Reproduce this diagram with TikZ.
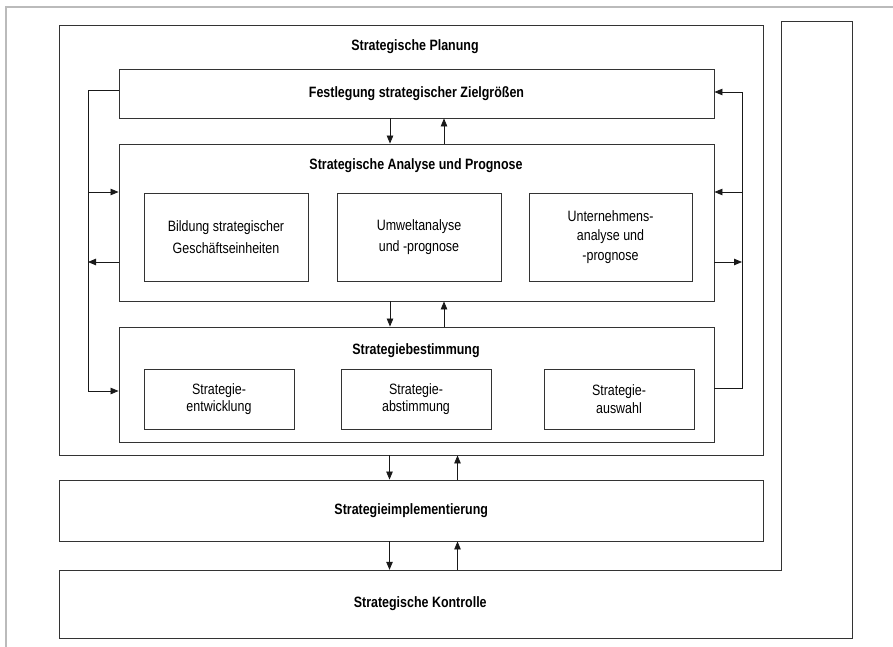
\documentclass[tikz,border=0pt]{standalone}
\usepackage{fontspec}
\setmainfont{Liberation Sans}[FakeStretch=0.83]
\usetikzlibrary{arrows.meta}
\definecolor{linec}{HTML}{333333}
\definecolor{framec}{HTML}{BBBBBB}
\tikzset{
  x=1pt,y=-1pt,
  box/.style={draw=linec,line width=0.9pt,rectangle,inner sep=0pt,align=center,font=\fontsize{15}{19.5}\selectfont},
  ttl/.style={inner sep=0pt,font=\bfseries\fontsize{15}{18}\selectfont},
  conn/.style={draw=black!90,line width=0.8pt},
  arr/.style={conn,-{Triangle[length=8pt,width=6.5pt]}},
  sbox/.style={box,font=\fontsize{15}{17.5}\selectfont}
}
\begin{document}
\begin{tikzpicture}
\useasboundingbox (0,0) rectangle (893,647);
% page frame (top and left only)
\draw[framec,line width=1.3pt] (6,647) -- (6,7) -- (893,7);

% main boxes
\node[box,minimum width=703.5pt,minimum height=430pt] (plan) at (411.25,240) {};
\node[ttl] (plant) at (415,47) {Strategische Planung};
\node[box,minimum width=595pt,minimum height=49pt,font=\bfseries\fontsize{15}{18}\selectfont] (fest) at (416.5,93.5) {Festlegung strategischer Zielgrößen};
\node[box,minimum width=595pt,minimum height=157pt] (ana) at (416.5,222.5) {};
\node[ttl] (anat) at (416,166) {Strategische Analyse und Prognose};
\node[box,minimum width=164pt,minimum height=88pt,font=\fontsize{15}{21.5}\selectfont] (bild) at (226,237) {Bildung strategischer\\Geschäftseinheiten};
\node[box,minimum width=164pt,minimum height=88pt,font=\fontsize{15}{21.5}\selectfont] (umw) at (419,237) {Umweltanalyse\\und -prognose};
\node[box,minimum width=163pt,minimum height=88pt] (unt) at (610.5,237) {Unternehmens-\\analyse und\\-prognose};
\node[box,minimum width=595pt,minimum height=115pt] (best) at (416.5,384.5) {};
\node[ttl] (bestt) at (416,351) {Strategiebestimmung};
\node[sbox,minimum width=150pt,minimum height=60pt] (entw) at (219,399) {Strategie-\\entwicklung};
\node[sbox,minimum width=150pt,minimum height=60pt] (abst) at (416,399) {Strategie-\\abstimmung};
\node[sbox,minimum width=150pt,minimum height=60pt] (ausw) at (619,399) {Strategie-\\auswahl};
\node[box,minimum width=703.5pt,minimum height=61pt,font=\bfseries\fontsize{15}{18}\selectfont] (impl) at (411.25,510.5) {Strategieimplementierung};
\node[ttl,minimum width=721.5pt,minimum height=68pt] (kontr) at (420.25,604) {Strategische Kontrolle};
% L-shaped outline of Strategische Kontrolle
\coordinate (k1) at (59.5,570);
\coordinate (k2) at (781,570);
\coordinate (k3) at (781,21);
\coordinate (k4) at (852,21);
\coordinate (k5) at (852,638);
\coordinate (k6) at (59.5,638);
\draw[linec,line width=0.9pt] (k1) -- (k2) -- (k3) -- (k4) -- (k5) -- (k6) -- cycle;

% helper coordinates
\coordinate (xd) at (390,0);
\coordinate (xu) at (444,0);
\coordinate (xd2) at (389.5,0);
\coordinate (xu2) at (457.5,0);
\coordinate (L) at (88,0);
\coordinate (R) at (742,0);
\coordinate (yF) at (0,90);
\coordinate (yFR) at (0,92);
\coordinate (yA1) at (0,192);
\coordinate (yA2) at (0,262);
\coordinate (yB) at (0,391);
\coordinate (yBR) at (0,388);

% vertical arrows
\draw[arr] (fest.south -| xd) -- (ana.north -| xd);
\draw[arr] (ana.north -| xu) -- (fest.south -| xu);
\draw[arr] (ana.south -| xd) -- (best.north -| xd);
\draw[arr] (best.north -| xu) -- (ana.south -| xu);
\draw[arr] (plan.south -| xd2) -- (impl.north -| xd2);
\draw[arr] (impl.north -| xu2) -- (plan.south -| xu2);
\draw[arr] (impl.south -| xd2) -- (kontr.north -| xd2);
\draw[arr] (kontr.north -| xu2) -- (impl.south -| xu2);

% left feedback
\draw[conn] (fest.west |- yF) -| (L |- yB);
\draw[arr] (L |- yA1) -- (ana.west |- yA1);
\draw[arr] (ana.west |- yA2) -- (L |- yA2);
\draw[arr] (L |- yB) -- (best.west |- yB);

% right feedback
\draw[arr] (best.east |- yBR) -| (R |- yFR) -- (fest.east |- yFR);
\draw[arr] (R |- yA1) -- (ana.east |- yA1);
\draw[arr] (ana.east |- yA2) -- (R |- yA2);
\end{tikzpicture}
\end{document}
